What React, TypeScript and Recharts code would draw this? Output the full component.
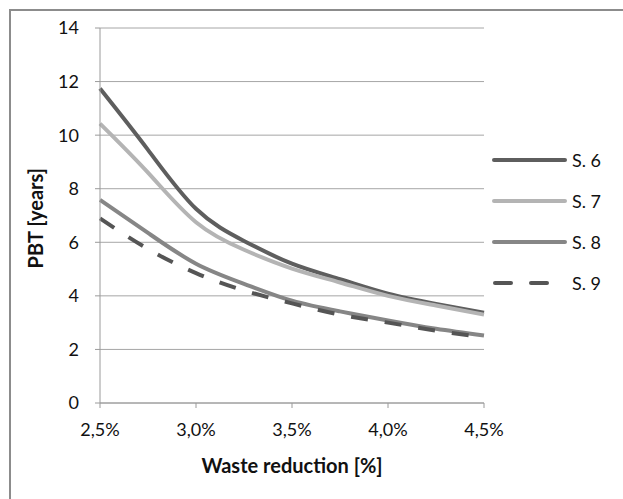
import React from 'react';
import { LineChart, Line, XAxis, YAxis, CartesianGrid } from 'recharts';

const reduction = [2.5, 2.75, 3.0, 3.25, 3.5, 3.75, 4.0, 4.25, 4.5];
const s6 = [11.74, 9.45, 7.25, 6.05, 5.2, 4.62, 4.08, 3.7, 3.37];
const s7 = [10.43, 8.6, 6.75, 5.72, 5.02, 4.5, 4.0, 3.64, 3.3];
const s8 = [7.58, 6.35, 5.2, 4.45, 3.82, 3.42, 3.08, 2.77, 2.52];
const s9 = [6.89, 5.75, 4.85, 4.2, 3.72, 3.3, 3.0, 2.7, 2.45];

const xTicks = [2.5, 3.0, 3.5, 4.0, 4.5];
const xTickLabels = ['2,5%', '3,0%', '3,5%', '4,0%', '4,5%'];
const yTicks = [0, 2, 4, 6, 8, 10, 12, 14];

const series = [
  { key: 's6', name: 'S. 6', color: '#5e5e5e', dash: undefined },
  { key: 's7', name: 'S. 7', color: '#b4b4b4', dash: undefined },
  { key: 's8', name: 'S. 8', color: '#868686', dash: undefined },
  { key: 's9', name: 'S. 9', color: '#555555', dash: '17 17' },
];

const data = reduction.map((x, i) => ({ x, s6: s6[i], s7: s7[i], s8: s8[i], s9: s9[i] }));

const font = 'Lato, "Open Sans", sans-serif';

// legend drawn by hand to the right of the plot, like the Excel original
const LegendBox = () => (
  <div style={{ position: 'absolute', left: 492, top: 139, fontFamily: font, fontSize: 18, color: '#111' }}>
    {series.map((s) => (
      <div key={s.key} style={{ display: 'flex', alignItems: 'center', height: 41 }}>
        <svg width={76} height={8}>
          {s.dash ? (
            <g stroke={s.color} strokeWidth={4} strokeLinecap="round">
              <line x1={3} y1={4} x2={19} y2={4} />
              <line x1={39} y1={4} x2={55} y2={4} />
            </g>
          ) : (
            <line x1={2} y1={4} x2={73} y2={4} stroke={s.color} strokeWidth={4} strokeLinecap="round" />
          )}
        </svg>
        <span style={{ marginLeft: 4 }}>{s.name}</span>
      </div>
    ))}
  </div>
);

export default function App() {
  return (
    <div style={{ position: 'absolute', left: 0, top: 0, width: 623, height: 499, background: '#fff', overflow: 'hidden' }}>
      <div
        style={{
          position: 'absolute',
          left: 9,
          top: 9,
          width: 640,
          height: 520,
          border: '2px solid #8c8c8c',
          boxSizing: 'border-box',
        }}
      />
      <div style={{ position: 'absolute', left: 0, top: 0 }}>
        <LineChart width={623} height={499} data={data} margin={{ top: 28, right: 139, bottom: 66, left: 70 }}>
          <CartesianGrid vertical={false} stroke="#a6a6a6" strokeWidth={1} />
          <XAxis
            dataKey="x"
            type="number"
            domain={[2.5, 4.5]}
            ticks={xTicks}
            tickFormatter={(v: number) => xTickLabels[xTicks.indexOf(v)] ?? ''}
            height={30}
            stroke="#9a9a9a"
            tickSize={5}
            tickMargin={15}
            tick={{ fontFamily: font, fontSize: 18, fill: '#111' }}
            label={{ value: 'Waste reduction [%]', position: 'insideBottom', offset: -40, style: { fontFamily: font, fontSize: 20, fontWeight: 700, fill: '#111' } }}
          />
          <YAxis
            domain={[0, 14]}
            ticks={yTicks}
            width={30}
            stroke="#9a9a9a"
            tickSize={5}
            tickMargin={16}
            tick={{ fontFamily: font, fontSize: 18, fill: '#111' }}
            label={{ value: 'PBT [years]', angle: -90, position: 'insideLeft', offset: -34, dy: 53, style: { fontFamily: font, fontSize: 20, fontWeight: 700, fill: '#111' } }}
          />
          {series.map((s) => (
            <Line
              key={s.key}
              type="natural"
              dataKey={s.key}
              name={s.name}
              stroke={s.color}
              strokeWidth={4}
              strokeDasharray={s.dash}
              dot={false}
              isAnimationActive={false}
            />
          ))}
        </LineChart>
      </div>
      <LegendBox />
    </div>
  );
}
